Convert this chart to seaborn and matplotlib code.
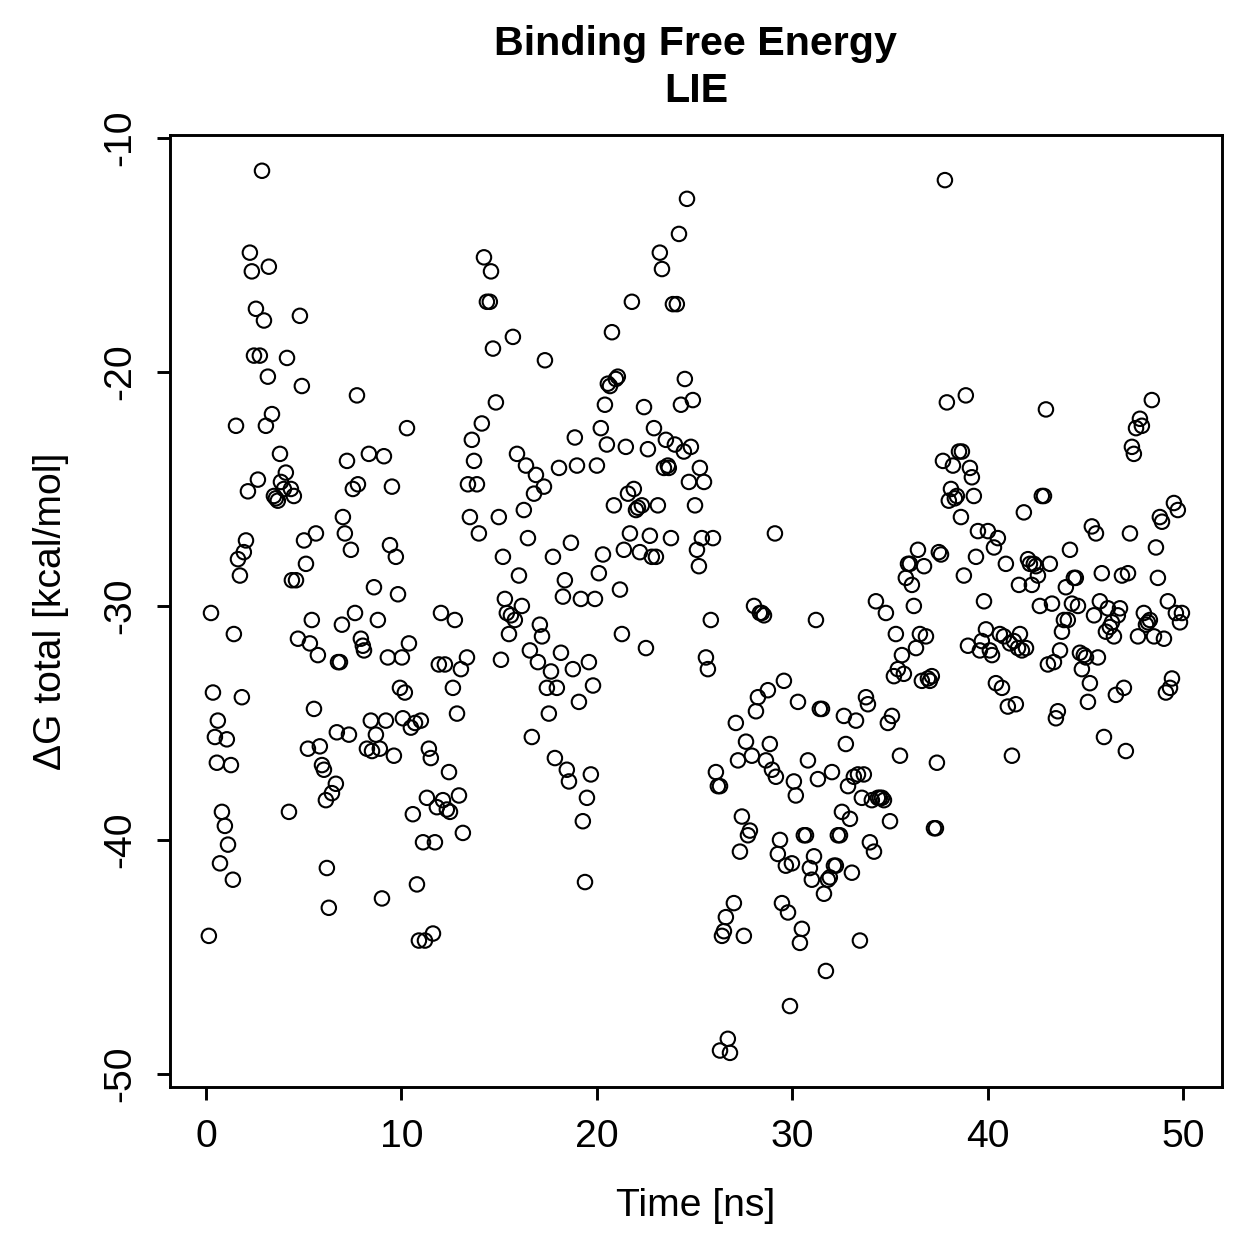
import numpy as np
import pandas as pd
import matplotlib
matplotlib.use("Agg")
import matplotlib.pyplot as plt
import seaborn as sns

# valores (tiempo en ns, energia en kcal/mol)
time_ns = [
    0.15, 0.26, 0.36, 0.46, 0.61, 0.56, 0.72, 0.82, 0.97, 1.07, 1.13, 1.28, 1.38, 1.43, 1.54, 1.64,
    1.74, 1.84, 1.94, 2.05, 2.15, 2.25, 2.35, 2.46, 2.56, 2.66, 2.76, 2.87, 2.97, 3.07, 3.17, 3.22,
    3.38, 3.48, 3.58, 3.68, 3.79, 3.84, 3.99, 4.09, 4.15, 4.25, 4.35, 4.40, 4.50, 4.61, 4.71, 4.81,
    4.91, 5.02, 5.12, 5.22, 5.32, 5.42, 5.53, 5.63, 5.73, 5.83, 5.94, 6.04, 6.14, 6.19, 6.29, 6.45,
    6.65, 6.76, 6.86, 6.70, 6.96, 7.01, 7.11, 7.22, 7.32, 7.42, 7.52, 7.63, 7.73, 7.78, 7.93, 8.03,
    8.09, 8.24, 8.34, 8.44, 8.50, 8.60, 8.70, 8.80, 8.90, 9.01, 9.11, 9.21, 9.31, 9.42, 9.52, 9.62,
    9.72, 9.83, 9.93, 10.03, 10.08, 10.18, 10.29, 10.39, 10.49, 10.59, 10.70, 10.80, 10.90, 11.00,
    11.11, 11.21, 11.31, 11.41, 11.51, 11.62, 11.72, 11.82, 11.92, 12.03, 12.13, 12.23, 12.33, 12.44,
    12.49, 12.64, 12.74, 12.85, 12.95, 13.05, 13.15, 13.36, 13.41, 13.51, 13.61, 13.72, 13.87, 13.97,
    14.12, 14.23, 14.38, 14.53, 14.59, 14.69, 14.84, 14.99, 15.10, 15.20, 15.30, 15.40, 15.51, 15.61,
    15.71, 15.81, 15.92, 16.02, 16.17, 16.27, 16.38, 16.48, 16.58, 16.68, 16.79, 16.89, 16.99, 17.09,
    17.20, 17.30, 17.35, 17.45, 17.55, 17.66, 17.76, 17.86, 17.96, 18.07, 18.17, 18.27, 18.37, 18.47,
    18.58, 18.68, 18.78, 18.88, 18.99, 19.09, 19.19, 19.29, 19.40, 19.50, 19.60, 19.70, 19.81, 19.91,
    20.01, 20.11, 20.21, 20.32, 20.42, 20.52, 20.57, 20.68, 20.78, 20.88, 20.98, 21.08, 21.19, 21.29,
    21.39, 21.49, 21.60, 21.70, 21.80, 21.90, 22.01, 22.11, 22.21, 22.31, 22.42, 22.52, 22.62, 22.72,
    22.82, 22.93, 23.03, 23.13, 23.23, 23.34, 23.44, 23.54, 23.64, 23.69, 23.80, 23.90, 24.00, 24.10,
    24.21, 24.31, 24.46, 24.51, 24.62, 24.72, 24.82, 24.92, 25.03, 25.13, 25.23, 25.28, 25.38, 25.49,
    25.59, 25.69, 25.84, 25.95, 26.10, 26.20, 26.31, 26.41, 26.51, 26.61, 26.71, 26.82, 26.31, 27.02,
    27.12, 27.23, 27.33, 27.43, 27.53, 27.64, 27.74, 27.84, 27.94, 28.05, 28.15, 28.25, 28.35, 28.45,
    28.56, 28.66, 28.76, 28.86, 28.97, 29.12, 29.17, 29.27, 29.38, 29.48, 29.58, 29.68, 29.79, 29.89,
    29.99, 30.09, 30.19, 30.30, 30.40, 30.50, 30.60, 30.71, 30.81, 30.91, 31.01, 31.12, 31.22, 31.32,
    31.42, 31.53, 31.63, 31.73, 31.83, 31.93, 32.04, 32.14, 32.24, 32.34, 32.45, 32.55, 32.65, 32.75,
    32.86, 32.96, 33.06, 33.16, 33.27, 33.37, 33.47, 33.57, 33.67, 33.78, 33.88, 33.98, 34.08, 34.19,
    34.29, 34.39, 34.49, 34.60, 34.70, 34.80, 34.90, 35.01, 35.11, 35.21, 35.31, 35.41, 35.52, 35.62,
    35.72, 35.82, 35.93, 36.03, 36.13, 36.23, 36.34, 36.44, 36.54, 36.64, 36.75, 36.85, 36.95, 37.05,
    37.15, 37.26, 37.36, 37.41, 37.51, 37.62, 37.72, 37.82, 37.92, 38.02, 38.13, 38.23, 38.33, 38.43,
    38.54, 38.64, 38.69, 38.79, 38.89, 39.00, 39.10, 39.20, 39.30, 39.41, 39.51, 39.61, 39.71, 39.82,
    39.92, 40.02, 40.12, 40.23, 40.33, 40.43, 40.53, 40.63, 40.74, 40.84, 40.94, 41.04, 41.15, 41.25,
    41.35, 41.45, 41.56, 41.61, 41.66, 41.76, 41.86, 41.97, 42.07, 42.17, 42.27, 42.37, 42.48, 42.58,
    42.68, 42.78, 42.89, 42.99, 43.09, 43.19, 43.30, 43.40, 43.50, 43.60, 43.71, 43.81, 43.91, 44.01,
    44.11, 44.22, 44.32, 44.42, 44.52, 44.63, 44.73, 44.83, 44.93, 45.04, 45.14, 45.24, 45.34, 45.45,
    45.55, 45.65, 45.75, 45.85, 45.96, 46.06, 46.16, 46.26, 46.37, 46.47, 46.57, 46.67, 46.78, 46.88,
    46.98, 47.08, 47.19, 47.29, 47.39, 47.49, 47.60, 47.70, 47.80, 47.90, 48.00, 48.11, 48.21, 48.31,
    48.41, 48.52, 48.62, 48.72, 48.82, 48.93, 49.03, 49.13, 49.23, 49.34, 49.44, 49.54, 49.64, 49.74,
    49.85, 49.95,
]

dg_total = [
    -44.1, -30.3, -33.7, -35.6, -34.9, -36.7, -41.0, -38.8, -39.4, -35.7, -40.2, -36.8, -41.7, -31.2, -22.3, -28.0,
    -28.7, -33.9, -27.7, -27.2, -25.1, -14.9, -15.7, -19.3, -17.3, -24.6, -19.3, -11.4, -17.8, -22.3, -20.2, -15.5,
    -21.8, -25.3, -25.4, -25.5, -23.5, -24.7, -25.0, -24.3, -19.4, -38.8, -25.0, -28.9, -25.3, -28.9, -31.4, -17.6,
    -20.6, -27.2, -28.2, -36.1, -31.6, -30.6, -34.4, -26.9, -32.1, -36.0, -36.8, -37.0, -38.3, -41.2, -42.9, -38.0,
    -37.6, -32.4, -32.4, -35.4, -30.8, -26.2, -26.9, -23.8, -35.5, -27.6, -25.0, -30.3, -21.0, -24.8, -31.4, -31.7,
    -31.9, -36.1, -23.5, -34.9, -36.2, -29.2, -35.5, -30.6, -36.1, -42.5, -23.6, -34.9, -32.2, -27.4, -24.9, -36.4,
    -27.9, -29.5, -33.5, -32.2, -34.8, -33.7, -22.4, -31.6, -35.2, -38.9, -35.0, -41.9, -44.3, -34.9,
    -40.1, -44.3, -38.2, -36.1, -36.5, -44.0, -40.1, -38.6, -32.5, -30.3, -38.3, -32.5, -38.7, -37.1,
    -38.8, -33.5, -30.6, -34.6, -38.1, -32.7, -39.7, -32.2, -24.8, -26.2, -22.9, -23.8, -24.8, -26.9,
    -22.2, -15.1, -17.0, -17.0, -15.7, -19.0, -21.3, -26.2, -32.3, -27.9, -29.7, -30.3, -31.2, -30.4,
    -18.5, -30.6, -23.5, -28.7, -30.0, -25.9, -24.0, -27.1, -31.9, -35.6, -25.2, -24.4, -32.4, -30.8,
    -31.3, -24.9, -19.5, -33.5, -34.6, -32.8, -27.9, -36.5, -33.5, -24.1, -32.0, -29.6, -28.9, -37.0,
    -37.5, -27.3, -32.7, -22.8, -24.0, -34.1, -29.7, -39.2, -41.8, -38.2, -32.4, -37.2, -33.4, -29.7,
    -24.0, -28.6, -22.4, -27.8, -21.4, -23.1, -20.5, -20.6, -18.3, -25.7, -20.3, -20.2, -29.3, -31.2,
    -27.6, -23.2, -25.2, -26.9, -17.0, -25.0, -25.9, -25.8, -27.7, -25.7, -21.5, -31.8, -23.3, -27.0,
    -27.9, -22.4, -27.9, -25.7, -14.9, -15.6, -24.1, -22.9, -24.0, -24.1, -27.1, -17.1, -23.1, -17.1,
    -14.1, -21.4, -23.4, -20.3, -12.6, -24.7, -23.2, -21.2, -25.7, -27.6, -28.3, -24.1, -27.1, -24.7,
    -32.2, -32.7, -30.6, -27.1, -37.1, -37.7, -37.7, -44.1, -43.9, -43.3, -48.5, -49.1, -49.0, -42.7,
    -35.0, -36.6, -40.5, -39.0, -44.1, -35.8, -39.8, -39.6, -36.4, -30.0, -34.5, -33.9, -30.3, -30.3,
    -30.4, -36.6, -33.6, -35.9, -37.0, -26.9, -37.3, -40.6, -40.0, -42.7, -33.2, -41.1, -43.1, -47.1,
    -41.0, -37.5, -38.1, -34.1, -44.4, -43.8, -39.8, -39.8, -36.6, -41.2, -41.7, -40.7, -30.6, -37.4,
    -34.4, -34.4, -42.3, -45.6, -41.7, -41.6, -37.1, -41.1, -41.1, -39.8, -39.8, -38.8, -34.7, -35.9,
    -37.7, -39.1, -41.4, -37.3, -34.9, -37.2, -44.3, -38.2, -37.2, -33.9, -34.2, -40.1, -38.3, -40.5,
    -29.8, -38.2, -38.2, -38.2, -38.3, -30.3, -35.0, -39.2, -34.7, -33.0, -31.2, -32.7, -36.4, -32.1,
    -32.9, -28.8, -28.2, -28.2, -29.1, -30.0, -31.8, -27.6, -31.2, -33.2, -28.3, -31.3, -33.1, -33.2,
    -33.0, -39.5, -39.5, -36.7, -27.7, -27.8, -23.8, -11.8, -21.3, -25.5, -25.0, -24.0, -25.4, -25.3,
    -23.4, -26.2, -23.4, -28.7, -21.0, -31.7, -24.1, -24.5, -25.3, -27.9, -26.8, -31.9, -31.5, -29.8,
    -31.0, -26.8, -31.9, -32.1, -27.5, -33.3, -27.1, -31.2, -33.5, -31.3, -28.2, -34.3, -31.6, -36.4,
    -31.5, -34.2, -31.8, -29.1, -31.2, -31.9, -26.0, -31.8, -28.0, -28.2, -29.1, -28.2, -28.3, -28.7,
    -30.0, -25.3, -25.3, -21.6, -32.5, -28.2, -29.9, -32.4, -34.8, -34.5, -31.9, -31.1, -30.6, -29.2,
    -30.6, -27.6, -29.9, -28.8, -28.8, -30.0, -32.0, -32.7, -32.1, -32.2, -34.1, -33.3, -26.6, -30.4,
    -26.9, -32.2, -29.8, -28.6, -35.6, -31.1, -30.1, -30.9, -30.7, -31.3, -33.8, -30.4, -30.1, -28.7,
    -33.5, -36.2, -28.6, -26.9, -23.2, -23.5, -22.4, -31.3, -22.0, -22.3, -30.3, -30.8, -30.7, -30.6,
    -21.2, -31.3, -27.5, -28.8, -26.2, -26.4, -31.4, -33.7, -29.8, -33.5, -33.1, -25.6, -30.3, -25.9,
    -30.7, -30.3,
]

x_ticks = [0, 10, 20, 30, 40, 50]
y_ticks = [-50, -40, -30, -20, -10]

df = pd.DataFrame({"time": time_ns, "dg": dg_total})

sns.set_theme(style="ticks")
plt.rcParams["font.family"] = ["Liberation Sans", "DejaVu Sans"]
plt.rcParams["text.color"] = "black"
plt.rcParams["axes.labelcolor"] = "black"

fig = plt.figure(figsize=(1259 / 300, 1259 / 300), dpi=300)
ax = fig.add_axes([0.135, 0.1366, 0.8356, 0.7562])

sns.scatterplot(data=df, x="time", y="dg", ax=ax, marker="o", s=12,
                facecolors="none", edgecolor="black", linewidth=0.5, legend=False)

ax.set_xlim(-1.84, 52.0)
ax.set_ylim(-50.56, -9.87)
ax.set_xticks(x_ticks)
ax.set_yticks(y_ticks)
ax.set_xticklabels([str(v) for v in x_ticks], fontsize=9.4)
ax.set_yticklabels([str(v) for v in y_ticks], fontsize=9.4, rotation=90, va="center")

for sp in ax.spines.values():
    sp.set_visible(True)
    sp.set_linewidth(0.7)
    sp.set_color("black")
ax.tick_params(axis="both", direction="out", length=3.2, width=0.7, color="black",
               labelcolor="black", pad=4.5)

ax.set_xlabel("Time [ns]", fontsize=9.4, labelpad=8)
ax.set_ylabel("\u0394G total [kcal/mol]", fontsize=9.4, labelpad=8)
ax.set_title("Binding Free Energy\nLIE", fontsize=9.9, fontweight="bold",
             linespacing=1.3, pad=8)

fig.savefig("out.png", dpi=300, facecolor="white")
